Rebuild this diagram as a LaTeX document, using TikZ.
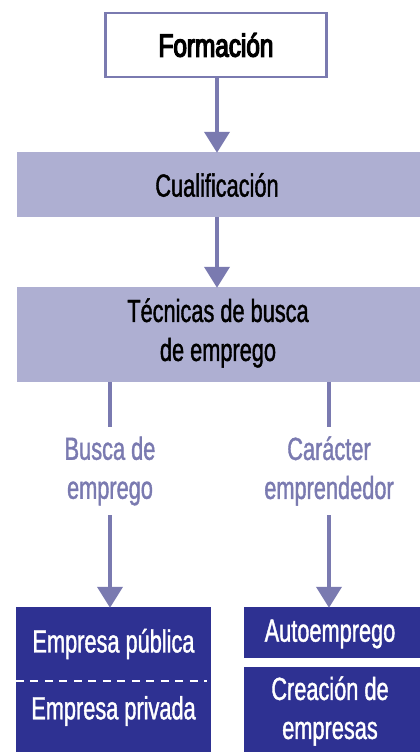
\documentclass[tikz,border=0pt]{standalone}
\usepackage{fontspec}
\setmainfont{Liberation Sans}[FakeStretch=0.68, FakeBold=1.2]
\newfontfamily\boldf{Liberation Sans}[FakeStretch=0.76, FakeBold=4]
\usetikzlibrary{arrows.meta}
\definecolor{lav}{HTML}{AEAFD2}
\definecolor{lin}{HTML}{7A7AB0}
\definecolor{navy}{HTML}{2E3192}
\tikzset{
  txt/.style={font=\fontsize{32}{39}\selectfont, align=center, inner sep=0pt},
  conn/.style={draw=lin, line width=4pt},
  arr/.style={conn, -{Triangle[width=25pt,length=21pt]}, shorten >=-1pt},
  lavbox/.style={fill=lav, draw=none, inner sep=0pt},
  navybox/.style={fill=navy, draw=none, inner sep=0pt},
}
\begin{document}
\begin{tikzpicture}[x=1pt,y=-1pt]
\useasboundingbox (0,0) rectangle (420,752);
% boxes
\node[draw=lin, line width=2.5pt, fill=white, minimum width=221pt, minimum height=64pt, inner sep=0pt] (form) at (216,45) {};
\node[txt, font=\boldf\fontsize{32}{39}\selectfont] at (216,45) {Formación};
\node[lavbox, minimum width=403pt, minimum height=65pt] (cual) at (218.5,184.5) {};
\node[txt] at (217,185) {Cualificación};
\node[lavbox, minimum width=403pt, minimum height=95pt] (tec) at (218.5,334.5) {};
\node[txt] at (218,333) {Técnicas de busca\\de emprego};
\node[navybox, minimum width=195pt, minimum height=145pt] (pub) at (113.5,679.5) {};
\node[navybox, minimum width=176pt, minimum height=51pt] (auto) at (332,632.5) {};
\node[navybox, minimum width=176pt, minimum height=85pt] (crea) at (332,709.5) {};
\node[txt, text=white] at (113.5,644) {Empresa pública};
\node[txt, text=white] at (113.5,711) {Empresa privada};
\node[txt, text=white] at (330,634) {Autoemprego};
\node[txt, text=white] at (330,711) {Creación de\\empresas};
\draw[white, line width=1.5pt, dash pattern=on 8pt off 6.5pt] (pub.west |- 0,681) -- (207,681);
% labels
\node[txt, text=lin, minimum height=88pt] (lbl) at (110,471) {Busca de\\emprego};
\node[txt, text=lin, minimum height=88pt] (rbl) at (329,471) {Carácter\\emprendedor};
% connectors
\draw[arr] (form.south -| 217,0) -- (cual.north -| 217,0);
\draw[arr] (cual.south -| 217,0) -- (tec.north -| 217,0);
\draw[conn] (tec.south -| lbl) -- (lbl.north);
\draw[arr] (lbl.south) -- (pub.north -| lbl);
\draw[conn] (tec.south -| rbl) -- (rbl.north);
\draw[arr] (rbl.south) -- (auto.north -| rbl);
\end{tikzpicture}
\end{document}
